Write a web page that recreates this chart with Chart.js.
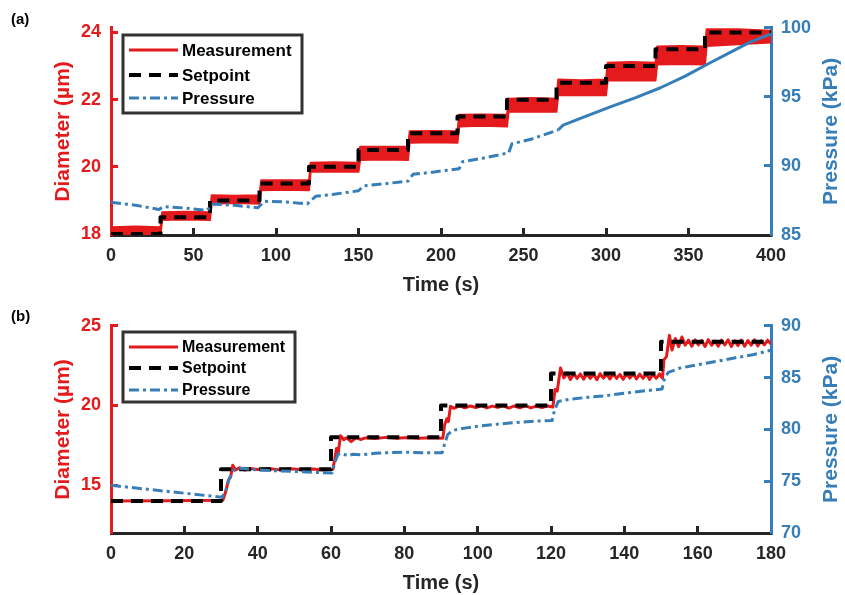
<!DOCTYPE html>
<html>
<head>
<meta charset="utf-8">
<script src="https://cdn.jsdelivr.net/npm/chart.js@4.4.1/dist/chart.umd.min.js"></script>
<style>
  html, body { margin: 0; padding: 0; background: #fff; }
  .panel { position: absolute; left: 0; width: 845px; }
  #wrapA { top: 0; height: 298px; }
  #wrapB { top: 298px; height: 297px; }
</style>
</head>
<body>
<div class="panel" id="wrapA"><canvas id="chartA"></canvas></div>
<div class="panel" id="wrapB"><canvas id="chartB"></canvas></div>
<script>
// ---------- panel (a): 400 s run, 0.5 um steps ----------
const stepTimesA = [0, 30, 60, 90, 120, 150, 180, 210, 240, 270, 300, 330, 360, 400];
const setpointA = [18, 18.5, 19, 19.5, 20, 20.5, 21, 21.5, 22, 22.5, 23, 23.5, 24, 24];

const measHighA = [[0,18.2],[15,18.22],[30,18.2],[31,18.65],[45,18.66],[60,18.65],[61,19.15],[75,19.14],[90,19.15],
  [91,19.6],[105,19.6],[120,19.6],[121,20.12],[135,20.14],[150,20.12],[151,20.6],[165,20.6],[180,20.6],
  [181,21.06],[195,21.07],[210,21.06],[211,21.55],[225,21.56],[240,21.55],[241,22.03],[255,22.05],[270,22.03],
  [271,22.6],[285,22.58],[300,22.6],[301,23.1],[315,23.12],[330,23.1],[331,23.58],[345,23.6],[360,23.58],
  [361,24.1],[380,24.1],[400,24.05]];
const measLowA = [[0,17.98],[15,17.99],[30,17.98],[31,18.42],[45,18.43],[60,18.42],[61,18.9],[75,18.92],[90,18.9],
  [91,19.3],[105,19.32],[120,19.3],[121,19.85],[135,19.86],[150,19.85],[151,20.2],[165,20.22],[180,20.2],
  [181,20.72],[195,20.73],[210,20.72],[211,21.2],[225,21.22],[240,21.2],[241,21.64],[255,21.65],[270,21.64],
  [271,22.13],[285,22.14],[300,22.13],[301,22.57],[315,22.58],[330,22.57],[331,23.05],[345,23.06],[360,23.05],
  [361,23.6],[380,23.65],[400,23.7]];

const pressureA = [[0,87.37],[15,87.15],[29,86.85],[32,87.06],[45,86.95],[58,86.78],[62,87.25],[75,87.15],
  [89,86.97],[93,87.44],[105,87.4],[119,87.25],[124,87.8],[135,87.95],[150,88.2],[153,88.55],[165,88.7],
  [180,88.9],[183,89.39],[195,89.55],[211,89.8],[213,90.3],[225,90.55],[241,90.95],[243,91.6],[255,91.95],
  [271,92.6],[274,92.95],[288,93.6],[303,94.3],[318,94.95],[333,95.66],[348,96.5],[362,97.4],[375,98.2],
  [387,98.95],[400,99.55]];

const xTicksA = [0, 50, 100, 150, 200, 250, 300, 350, 400];
const diamTicksA = [18, 20, 22, 24];
const pressTicksA = [85, 90, 95, 100];

// ---------- panel (b): 180 s run, 2 um steps ----------
const stepTimesB = [0, 30, 60, 90, 120, 150, 180];
const setpointB = [14, 16, 18, 20, 22, 24, 24];

const measB = [[0,14.0],[15,14.02],[30.5,14.05],
  [31.3,14.6],[32,15.3],[32.6,15.5],[33.2,16.25],[34,15.95],[35,16.1],[36.5,15.95],[38,16.05],[40,15.98],
  [43,16.04],[46,15.96],[49,16.03],[52,15.97],[55,16.02],[58,15.96],[60.5,16.0],
  [61,16.6],[61.5,17.3],[62,17.1],[62.6,18.1],[63.5,17.85],[64.2,17.98],[65.5,17.73],[66.9,17.98],[68,17.87],
  [69.5,17.97],[72,17.93],[75,18.0],[78,17.94],[81,17.99],[84,17.95],[87,17.98],[90.5,17.95],
  [91,18.8],[91.6,19.17],[92,19.0],[92.6,19.95],[93.5,19.82],[95,19.98],[96.5,19.86],[98,19.97],[99.5,19.87],
  [101,19.99],[102.5,19.85],[104,19.96],[105.5,19.88],[107,19.98],[108.5,19.84],[110,19.97],[111.5,19.86],
  [113,19.99],[114.5,19.85],[116,19.96],[117.5,19.87],[119,19.97],[120.5,19.9],
  [121.1,21.0],[121.7,20.9],[122.6,22.35],[123.5,21.73],[124.4,22.04],[125.3,21.63],[126.2,22.0],[127.1,21.7],
  [128,21.98],[128.9,21.65],[129.8,22.02],[130.7,21.7],[131.6,21.97],[132.5,21.62],[133.4,22.0],[134.3,21.72],
  [135.2,21.96],[136.1,21.66],[137,22.01],[137.9,21.7],[138.8,21.95],[139.7,21.64],[140.6,21.99],[141.5,21.72],
  [142.4,22.02],[143.3,21.66],[144.2,21.97],[145.1,21.7],[146,22.0],[146.9,21.63],[147.8,21.96],[148.7,21.7],
  [149.6,21.98],[150.4,21.72],
  [150.8,22.86],[151.5,23.07],[152.3,24.4],[153,23.48],[153.9,24.2],[154.8,23.69],[155.7,24.3],[156.6,23.79],
  [157.5,24.1],[158.4,23.72],[159.3,24.12],[160.2,23.8],[161.1,24.08],[162,23.7],[162.9,24.13],[163.8,23.78],
  [164.7,24.05],[165.6,23.72],[166.5,24.1],[167.4,23.8],[168.3,24.12],[169.2,23.7],[170.1,24.06],[171,23.76],
  [171.9,24.1],[172.8,23.72],[173.7,24.08],[174.6,23.78],[175.5,24.12],[176.4,23.74],[177.3,24.06],[178.2,23.8],
  [179.1,24.1],[180,23.85]];

const pressureB = [[0,74.6],[30.3,73.45],[31.4,74.2],[32.3,75.3],[33.6,76.1],[35,76.25],[40,76.1],[45,76.0],
  [50,75.95],[55,75.85],[60.3,75.8],[61,76.75],[61.9,77.6],[63,77.7],[64.5,77.45],[66,77.6],[68.4,77.55],
  [72,77.7],[76,77.75],[80,77.8],[85,77.75],[90.3,77.75],[91,78.6],[91.8,79.5],[93.2,79.9],[96,80.1],
  [100,80.3],[104,80.45],[108,80.6],[112,80.7],[116,80.8],[120.3,80.85],[121,81.9],[122,82.7],[125,82.9],
  [130,83.1],[135,83.25],[140,83.5],[145,83.7],[150.3,83.9],[151,85.0],[152,85.5],[155,85.9],[160,86.25],
  [165,86.55],[170,86.9],[175,87.2],[180,87.65]];

const xTicksB = [0, 20, 40, 60, 80, 100, 120, 140, 160, 180];
const diamTicksB = [15, 20, 25];
const pressTicksB = [70, 75, 80, 85, 90];

// ---------- styling ----------
const FONT = "'Liberation Sans', Arial, Helvetica, sans-serif";
const RED = "#E41A1C";
const BLUE = "#377EB8";
const DARK = "#262626";
const PRESS_DASH = [10, 4, 3, 4];
const SET_DASH = [12, 8];

const pairs = (xs, ys) => xs.map((x, i) => [x, ys[i]]);
const useTicks = (values) => (scale) => { scale.ticks = values.map(v => ({ value: v })); };

// legend box, right-hand axis title (reads bottom to top) and panel tag
const extras = {
  id: "extras",
  afterDraw(chart, args, o) {
    const ctx = chart.ctx;
    ctx.save();
    ctx.fillStyle = "#000";
    ctx.font = "bold 15px " + FONT;
    ctx.textAlign = "left";
    ctx.textBaseline = "middle";
    ctx.fillText(o.tag, o.tagX, o.tagY);

    const y2 = chart.scales.y2;
    ctx.save();
    ctx.translate(o.rightTitleX, (y2.top + y2.bottom) / 2);
    ctx.rotate(-Math.PI / 2);
    ctx.font = "bold 21px " + FONT;
    ctx.fillStyle = BLUE;
    ctx.textAlign = "center";
    ctx.fillText(y2.options.title.text, 0, 0);
    ctx.restore();

    const b = o.box;
    ctx.fillStyle = "#fff";
    ctx.fillRect(b.left, b.top, b.right - b.left, b.bottom - b.top);
    ctx.strokeStyle = "#333";
    ctx.lineWidth = 3;
    ctx.strokeRect(b.left, b.top, b.right - b.left, b.bottom - b.top);
    ctx.font = "bold " + o.fontSize + "px " + FONT;
    ctx.textAlign = "left";
    o.labels.forEach((name, i) => {
      const ds = chart.data.datasets.find(d => d.label === name);
      const y = o.rowY[i];
      ctx.beginPath();
      ctx.setLineDash(ds.borderDash || []);
      ctx.strokeStyle = ds.borderColor;
      ctx.lineWidth = ds.legendWidth || ds.borderWidth;
      ctx.moveTo(o.sampleX[0], y);
      ctx.lineTo(o.sampleX[1], y);
      ctx.stroke();
      ctx.setLineDash([]);
      ctx.fillStyle = "#000";
      ctx.fillText(name, o.textX, y + 1);
    });
    ctx.restore();
  }
};

function axis(color, ticks, tickFont, extra) {
  return Object.assign({
    border: { display: true, color: color, width: 3 },
    grid: { drawOnChartArea: false, drawTicks: true, tickLength: -7, tickColor: color, tickWidth: 3 },
    ticks: { color: color, font: { family: FONT, weight: "bold", size: tickFont }, maxRotation: 0, autoSkip: false },
    afterBuildTicks: useTicks(ticks)
  }, extra);
}

function makeChart(id, p) {
  return new Chart(document.getElementById(id), {
    type: "line",
    data: { datasets: p.datasets },
    options: {
      responsive: true,
      maintainAspectRatio: false,
      animation: false,
      events: [],
      layout: { padding: { top: p.top, left: 0, right: 0, bottom: 0 } },
      elements: { point: { radius: 0 }, line: { tension: 0, borderJoinStyle: "round" } },
      plugins: {
        legend: { display: false },
        tooltip: { enabled: false },
        extras: p.extras
      },
      scales: {
        x: axis(DARK, p.xTicks, 18, {
          type: "linear", position: "bottom", min: p.xRange[0], max: p.xRange[1],
          title: { display: true, text: "Time (s)", color: DARK, font: { family: FONT, weight: "bold", size: 20 }, padding: { top: 0, bottom: p.xTitlePad } },
          afterFit: (s) => { s.height = p.xHeight; }
        }),
        y: axis(RED, p.diamTicks, 18, {
          type: "linear", position: "left", min: p.diamRange[0], max: p.diamRange[1],
          title: { display: true, text: "Diameter (µm)", color: RED, font: { family: FONT, weight: "bold", size: 21 }, padding: { top: 51, bottom: 0 } },
          afterFit: (s) => { s.width = 111; }
        }),
        y2: axis(BLUE, p.pressTicks, 18, {
          type: "linear", position: "right", min: p.pressRange[0], max: p.pressRange[1],
          title: { display: false, text: "Pressure (kPa)" },
          afterFit: (s) => { s.width = 74; }
        })
      }
    },
    plugins: [extras]
  });
}

// tick label spacing
Chart.defaults.scales.linear.ticks.padding = 17;

makeChart("chartA", {
  top: 24, xHeight: 63, xTitlePad: 1,
  xRange: [0, 400], diamRange: [17.97, 24.14], pressRange: [85, 100],
  xTicks: xTicksA, diamTicks: diamTicksA, pressTicks: pressTicksA,
  datasets: [
    { label: "Pressure", data: pressureA, yAxisID: "y2", borderColor: BLUE, borderWidth: 3, borderDash: PRESS_DASH,
      segment: { borderDash: (c) => c.p0.parsed.x >= 270 ? [] : undefined } },
    { label: "Setpoint", data: pairs(stepTimesA, setpointA), yAxisID: "y", borderColor: "#000", borderWidth: 4,
      borderDash: SET_DASH, stepped: true },
    { label: "Measurement low", data: measLowA, yAxisID: "y", borderColor: RED, borderWidth: 2, fill: false },
    { label: "Measurement", data: measHighA, yAxisID: "y", borderColor: RED, borderWidth: 2, legendWidth: 3,
      backgroundColor: RED, fill: "-1" }
  ],
  extras: {
    tag: "(a)", tagX: 11, tagY: 20, rightTitleX: 831,
    box: { left: 123, top: 35, right: 302, bottom: 113 },
    labels: ["Measurement", "Setpoint", "Pressure"], rowY: [50, 75, 98],
    sampleX: [129, 178], textX: 182, fontSize: 17
  }
});

makeChart("chartB", {
  top: 24, xHeight: 62, xTitlePad: 0,
  xRange: [0, 180], diamRange: [12, 25], pressRange: [70, 90],
  xTicks: xTicksB, diamTicks: diamTicksB, pressTicks: pressTicksB,
  datasets: [
    { label: "Pressure", data: pressureB, yAxisID: "y2", borderColor: BLUE, borderWidth: 3, borderDash: PRESS_DASH },
    { label: "Setpoint", data: pairs(stepTimesB, setpointB), yAxisID: "y", borderColor: "#000", borderWidth: 4,
      borderDash: SET_DASH, stepped: true },
    { label: "Measurement", data: measB, yAxisID: "y", borderColor: RED, borderWidth: 3 }
  ],
  extras: {
    tag: "(b)", tagX: 11, tagY: 19, rightTitleX: 831,
    box: { left: 123, top: 34, right: 295, bottom: 104 },
    labels: ["Measurement", "Setpoint", "Pressure"], rowY: [49, 70, 92],
    sampleX: [129, 178], textX: 182, fontSize: 16
  }
});
</script>
</body>
</html>
